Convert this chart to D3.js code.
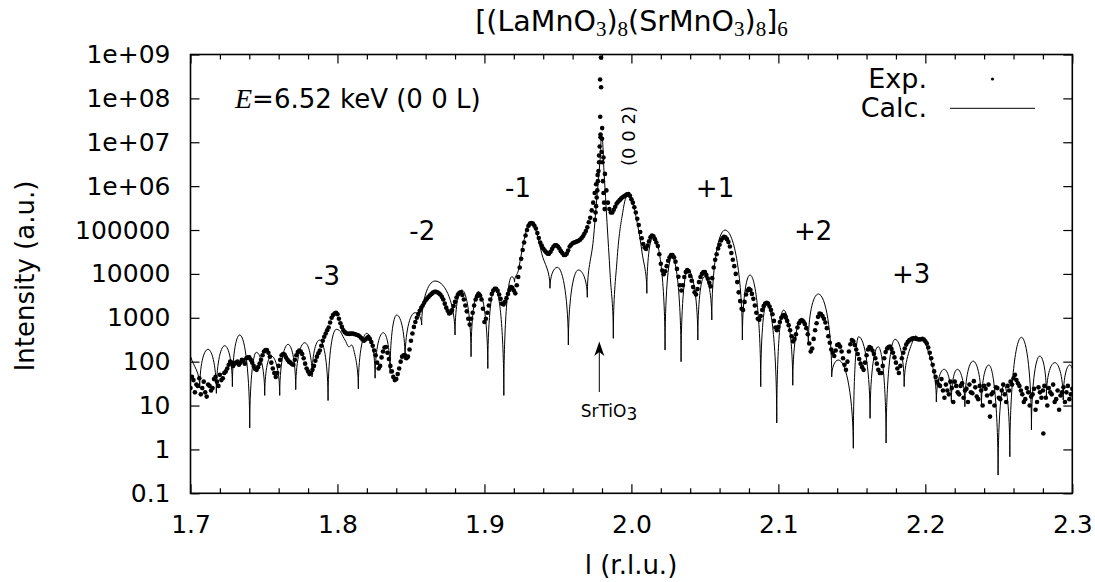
<!DOCTYPE html>
<html><head><meta charset="utf-8">
<script src="https://cdn.jsdelivr.net/npm/d3@7"></script>
<style>
body{margin:0;background:#fff}
svg{display:block}
text{font-family:"DejaVu Sans",sans-serif;fill:#000}
</style>
</head><body>
<svg id="chart" width="1095" height="582"></svg>
<script>
// ---------------- DATA ----------------
const xTickValues = [1.7, 1.8, 1.9, 2.0, 2.1, 2.2, 2.3];
const xTickLabels = ["1.7", "1.8", "1.9", "2.0", "2.1", "2.2", "2.3"];
const xMinorTicks = [1.72,1.74,1.76,1.78,1.82,1.84,1.86,1.88,1.92,1.94,1.96,1.98,2.02,2.04,2.06,2.08,2.12,2.14,2.16,2.18,2.22,2.24,2.26,2.28];
const yTickValues = [1e9, 1e8, 1e7, 1e6, 1e5, 1e4, 1e3, 100, 10, 1, 0.1];
const yTickLabels = ["1e+09","1e+08","1e+07","1e+06","100000","10000","1000","100","10","1","0.1"];

// Experimental intensities on a regular L grid (start 1.700, step 0.002)
const expStartL = 1.700, expStepL = 0.002;
const expI = [
  25, 38, 30, 42, 25, 20, 30, 22, 40, 35,
  50, 42, 60, 85, 95, 90, 100, 95, 105, 120,
  125, 95, 68, 75, 110, 170, 185, 130, 70, 45,
  80, 140, 145, 110, 95, 85, 140, 180, 150, 90,
  60, 55, 80, 130, 180, 300, 440, 600, 1000, 1250,
  1200, 750, 520, 440, 430, 440, 420, 400, 350, 300,
  340, 330, 230, 140, 70, 125, 210, 160, 80, 45,
  40, 70, 130, 140, 130, 300, 620, 1000, 1450, 1900,
  2500, 3000, 3500, 3900, 3800, 3400, 2600, 1700, 1250, 1500,
  2300, 3400, 3800, 2600, 1400, 700, 1300, 2600, 3500, 2600,
  800, 1300, 2600, 4200, 4600, 3400, 2100, 2300, 3500, 5000,
  4200, 5500, 14000, 35000, 75000, 125000, 145000, 125000, 85000, 52000,
  38000, 31000, 29000, 37000, 45000, 42000, 33000, 27000, 29000, 42000,
  50000, 53000, 57000, 65000, 82000, 115000, 190000, 420000, 1100000, 3500000,
  12000000, 1900000, 420000, 250000, 290000, 400000, 480000, 560000, 620000, 660000,
  500000, 330000, 180000, 90000, 48000, 37000, 55000, 75000, 62000, 43000,
  17000, 9800, 15000, 24000, 27000, 19000, 8600, 4200, 8500, 12300,
  9000, 5000, 3400, 6500, 10000, 11000, 7800, 5200, 14000, 28000,
  46000, 65000, 68000, 53000, 30000, 15000, 6500, 2400, 1500, 3400,
  4600, 3500, 1900, 950, 1100, 1850, 2200, 1800, 1200, 600,
  620, 1000, 1150, 850, 520, 290, 420, 750, 880, 720,
  420, 170, 330, 750, 1250, 1100, 780, 380, 190, 135,
  240, 220, 120, 65, 170, 310, 240, 150, 90, 65,
  140, 215, 180, 120, 65, 55, 120, 200, 220, 160,
  95, 55, 120, 200, 280, 320, 340, 330, 320, 330,
  290, 210, 120, 60, 35, 28, 22, 30, 18, 25,
  35, 20, 28, 15, 24, 30, 19, 26, 14, 22,
  28, 17, 12, 20, 26, 15, 22, 18, 28, 35,
  42, 38, 28, 18, 14, 20, 16, 24, 12, 20,
  22, 15, 25, 18, 12, 22, 17, 26, 20, 14,
  24
];

// Intermediate experimental points (start 1.739, step 0.002)
const expMidStartL = 1.739, expMidStepL = 0.002;
const expMidI = [
  125, 110, 80, 65, 90, 140, 185, 160, 95, 55,
  55, 110, 150, 125, 100, 88, 110, 165, 170, 120,
  70, 52, 65, 105, 155, 230, 370, 520, 780, 1150,
  1300,
  950, 620, 470, 435, 435, 430, 410, 380, 320, 320,
  370, 280, 180, 95, 80, 170, 215, 115, 60, 38,
  52, 100, 140, 120, 190, 440, 800, 1220, 1680, 2200,
  2750, 3250, 3750, 3900, 3600, 3000, 2100, 1450, 1300, 1850,
  2900, 3700, 3300, 1900, 950, 950, 1900, 3100, 3200, 1600,
  950, 1900, 3500, 4600, 4100, 2700, 2000, 2800, 4300, 4800,
  3600, 8500, 22000, 52000, 100000, 140000, 140000, 108000, 66000, 44000,
  34000, 29000, 32000, 42000, 45000, 38000, 30000, 27000, 34000, 46000,
  52000, 55000, 60000, 72000, 95000, 150000, 280000, 700000, 1800000, 15000000,
  4500000, 800000, 300000, 250000, 340000, 440000, 520000, 590000, 650000, 600000,
  420000, 250000, 130000, 65000, 40000, 44000, 68000, 72000, 52000, 28000,
  12000, 11500, 20000, 27000, 24000, 13000, 5500, 5500, 11000, 11500,
  7000, 3800, 4500, 8500, 11000, 9500, 6300, 8000, 21000, 38000,
  58000, 70000, 62000, 42000, 21000, 10000, 3800, 1600, 2300, 4200,
  4300, 2700, 1300, 900, 1500, 2100, 2100, 1500, 850, 520,
  800, 1120, 1020, 680, 380, 330, 600, 850, 820, 580,
  260, 200, 520, 1050, 1220, 950, 580, 270, 160, 180,
  250, 170, 85, 100, 250, 290, 190, 115, 75, 95,
  190, 205, 150, 90, 55, 80, 165, 215, 195, 125,
  70, 80, 160, 245, 305, 335, 340, 325, 325, 320,
  260, 160, 85, 45, 30
];

// Extra experimental points (Bragg peak top and scattered noisy points)
const expExtraL = [
  1.9793, 1.9787, 1.9794, 1.9788, 1.9801, 1.9790, 1.9784, 1.9797, 1.9780, 1.9803,
  1.9776, 1.9806, 1.9772, 1.9768, 1.9810, 1.9764, 1.9814, 1.9760, 1.9818, 1.9756, 1.9752,
  1.701, 1.703, 1.705, 1.707, 1.709, 1.711, 1.713, 1.715, 1.717, 1.719,
  1.721, 1.723, 1.725, 1.727, 1.729, 1.731, 1.733, 1.735, 1.737,
  2.211, 2.213, 2.215, 2.217, 2.219, 2.221, 2.223, 2.225, 2.227, 2.229,
  2.231, 2.233, 2.235, 2.237, 2.239, 2.241, 2.243, 2.2440, 2.245, 2.247,
  2.249, 2.251, 2.253, 2.255, 2.257, 2.259, 2.261, 2.263, 2.265, 2.267,
  2.269, 2.271, 2.273, 2.275, 2.277, 2.279, 2.2803, 2.281, 2.283, 2.285,
  2.287, 2.289, 2.291, 2.293, 2.295, 2.297, 2.299
];
const expExtraI = [
  8.5e8, 2.7e8, 1.8e8, 3.8e7, 2.1e7, 1.3e7, 8e6, 6e6, 5e6, 3.5e6,
  2.2e6, 1.3e6, 1.3e6, 8e5, 7e5, 5.5e5, 4.2e5, 3.5e5, 3e5, 2.5e5, 1.7e5,
  45, 20, 28, 18, 35, 16, 28, 25, 45, 28,
  38, 55, 70, 100, 80, 95, 85, 110, 90,
  40, 15, 22, 35, 12, 28, 18, 32, 22, 12,
  20, 36, 16, 28, 10, 24, 30, 5.6, 18, 10,
  25, 14, 30, 12, 22, 30, 50, 32, 22, 12,
  25, 10, 18, 8, 26, 15, 2.3, 28, 10, 20,
  30, 14, 8, 20, 12, 28, 18
];

// Calculated curve: turning points
const calcL = [
  1.7001, 1.7063, 1.7119, 1.7176, 1.7233, 1.7285, 1.7335, 1.7403, 1.7448, 1.7505,
  1.7550, 1.7607, 1.7664, 1.7716, 1.7777, 1.7827, 1.7879, 1.7936, 1.7992, 1.8051,
  1.8074, 1.8108, 1.8142, 1.8199, 1.8256, 1.8312, 1.8358, 1.8403, 1.8460, 1.8528,
  1.8573, 1.8664, 1.8800, 1.8846, 1.8909, 1.8959, 1.9023, 1.9072, 1.9132, 1.9186,
  1.9205, 1.9231, 1.9254, 1.9276, 1.9310, 1.9344, 1.9390, 1.9446, 1.9496, 1.9571,
  1.9639, 1.9700, 1.9741, 1.9766, 1.9787, 1.9798, 1.9814, 1.9834, 1.9855, 1.9877,
  1.9902, 1.9936, 1.9979, 2.0005, 2.0039, 2.0073, 2.0105, 2.0149, 2.0229, 2.0275,
  2.0338, 2.0384, 2.0452, 2.0496, 2.0547, 2.0637, 2.0755, 2.0807, 2.0880, 2.0921,
  2.0989, 2.1034, 2.1098, 2.1159, 2.1204, 2.1272, 2.1363, 2.1408, 2.1510, 2.1546,
  2.1624, 2.1679, 2.1733, 2.1794, 2.1856, 2.1919, 2.1971, 2.1998, 2.2075, 2.2128,
  2.2177, 2.2218, 2.2269, 2.2325, 2.2382, 2.2432, 2.2495, 2.2536, 2.2575, 2.2654,
  2.2722, 2.2779, 2.2824, 2.2881, 2.2938, 2.2983, 2.3000
];
const calcI = [
  130, 25, 191, 19, 231, 27, 405, 3.1, 163, 17,
  134, 17, 248, 23, 270, 45, 312, 13, 546, 312,
  220, 202, 24, 443, 42, 457, 54, 1156, 109, 1306,
  684, 6890, 405, 4300, 130, 3935, 70, 4700, 17, 8630,
  6500, 12000, 32000, 72000, 150000, 115000, 29000, 4700, 14100, 240,
  12300, 2930, 60000, 600000, 4000000, 13400000, 2000000, 150000, 10000, 340,
  20000, 200000, 600000, 450000, 150000, 30000, 3610, 70400, 184, 24700,
  100, 12300, 312, 8630, 891, 100000, 312, 9440, 27, 2140,
  4, 1500, 29, 973, 262, 3480, 45, 109, 1.06, 370,
  5.1, 219, 1.4, 324, 27, 324, 330, 300, 12, 67,
  12, 67, 9.4, 103, 9.4, 84, 0.26, 29, 0.68, 359,
  2.8, 134, 16, 95, 13.4, 84, 70
];

const satelliteText = ["-3", "-2", "-1", "+1", "+2", "+3"];
const satelliteAtL = [1.7929, 1.8577, 1.9229, 2.0569, 2.1237, 2.1903];
const satelliteAtI = [5590, 59300, 566000, 566000, 59300, 6200];

// ---------------- LAYOUT ----------------
const m = {left: 190.5, right: 1072.3, top: 54.5, bottom: 493.3};
const svg = d3.select("#chart");
const x = d3.scaleLinear().domain([1.7, 2.3]).range([m.left, m.right]);
const y = d3.scaleLog().domain([0.1, 1e9]).range([m.bottom, m.top]);

svg.append("defs").append("clipPath").attr("id", "clip")
  .append("rect").attr("x", m.left).attr("y", m.top)
  .attr("width", m.right - m.left).attr("height", m.bottom - m.top);

// custom arch curve: vertical tangents at minima, horizontal at maxima
function archCurve(context) {
  let pts;
  return {
    areaStart() {}, areaEnd() {},
    lineStart() { pts = []; },
    point(px, py) { pts.push([+px, +py]); },
    lineEnd() {
      const n = pts.length; if (!n) return;
      const type = pts.map((q, i) => {
        const a = pts[i - 1], b = pts[i + 1];
        if (!a || !b) return "e";
        if (q[1] >= a[1] && q[1] >= b[1]) return "min";
        if (q[1] <= a[1] && q[1] <= b[1]) return "max";
        return "mono";
      });
      const slope = i => {
        const a = pts[i - 1], b = pts[i + 1];
        return (b[1] - a[1]) / (b[0] - a[0]);
      };
      context.moveTo(pts[0][0], pts[0][1]);
      for (let i = 0; i < n - 1; i++) {
        const a = pts[i], b = pts[i + 1];
        const dx = b[0] - a[0], dy = b[1] - a[1];
        let c1, c2;
        if (type[i] === "min") c1 = [a[0], a[1] + 0.55 * dy];
        else if (type[i] === "max") c1 = [a[0] + 0.55 * dx, a[1]];
        else if (type[i] === "mono") { const s = slope(i); c1 = [a[0] + dx / 3, a[1] + s * dx / 3]; }
        else c1 = [a[0] + dx / 3, a[1] + dy / 3];
        const j = i + 1;
        if (type[j] === "min") c2 = [b[0], b[1] - 0.55 * dy];
        else if (type[j] === "max") c2 = [b[0] - 0.55 * dx, b[1]];
        else if (type[j] === "mono") { const s = slope(j); c2 = [b[0] - dx / 3, b[1] - s * dx / 3]; }
        else c2 = [b[0] - dx / 3, b[1] - dy / 3];
        context.bezierCurveTo(c1[0], c1[1], c2[0], c2[1], b[0], b[1]);
      }
    }
  };
}

const plot = svg.append("g").attr("clip-path", "url(#clip)");

// experimental points
const expPts = expI.map((v, i) => [expStartL + i * expStepL, v])
  .concat(expMidI.map((v, i) => [expMidStartL + i * expMidStepL, v]))
  .concat(expExtraL.map((l, i) => [l, expExtraI[i]]));
plot.append("g").selectAll("circle").data(expPts).join("circle")
  .attr("cx", d => x(d[0])).attr("cy", d => y(d[1])).attr("r", 2.3).attr("fill", "#000");

// calculated line
const calcPts = calcL.map((l, i) => [l, calcI[i]]);
plot.append("path").datum(calcPts)
  .attr("fill", "none").attr("stroke", "#000").attr("stroke-width", 1)
  .attr("d", d3.line().x(d => x(d[0])).y(d => y(d[1])).curve(archCurve));

// axes
const fs = 25;
const gB = svg.append("g").attr("transform", `translate(0,${m.bottom})`)
  .call(d3.axisBottom(x).tickValues(xTickValues).tickFormat((d, i) => xTickLabels[i])
    .tickSizeInner(-9).tickSizeOuter(0).tickPadding(22));
const gBm = svg.append("g").attr("transform", `translate(0,${m.bottom})`)
  .call(d3.axisBottom(x).tickValues(xMinorTicks).tickFormat("").tickSizeInner(-5).tickSizeOuter(0));
const gT = svg.append("g").attr("transform", `translate(0,${m.top})`)
  .call(d3.axisTop(x).tickValues(xTickValues).tickFormat("").tickSizeInner(-9).tickSizeOuter(0));
const gTm = svg.append("g").attr("transform", `translate(0,${m.top})`)
  .call(d3.axisTop(x).tickValues(xMinorTicks).tickFormat("").tickSizeInner(-5).tickSizeOuter(0));
const gL = svg.append("g").attr("transform", `translate(${m.left},0)`)
  .call(d3.axisLeft(y).tickValues(yTickValues).tickFormat((d, i) => yTickLabels[i])
    .tickSizeInner(-9).tickSizeOuter(0).tickPadding(20));
const gR = svg.append("g").attr("transform", `translate(${m.right},0)`)
  .call(d3.axisRight(y).tickValues(yTickValues).tickFormat("").tickSizeInner(-9).tickSizeOuter(0));
[gB, gBm, gT, gTm, gL, gR].forEach(g => {
  g.select(".domain").remove();
  g.selectAll("line").attr("stroke", "#000").attr("stroke-width", 1.2);
  g.selectAll("text").attr("font-family", "DejaVu Sans").attr("font-size", fs).attr("fill", "#000");
});

// frame
svg.append("rect").attr("x", m.left).attr("y", m.top)
  .attr("width", m.right - m.left).attr("height", m.bottom - m.top)
  .attr("fill", "none").attr("stroke", "#000").attr("stroke-width", 1.6);

// axis titles
svg.append("text").attr("x", 631).attr("y", 574).attr("text-anchor", "middle")
  .attr("font-size", 26).text("l (r.l.u.)");
svg.append("text").attr("transform", "translate(34,276) rotate(-90)").attr("text-anchor", "middle")
  .attr("font-size", 26).text("Intensity (a.u.)");

// title
const title = svg.append("text").attr("x", 631.5).attr("y", 31).attr("text-anchor", "middle").attr("font-size", 28.5);
const titleParts = [["[(LaMnO", 0], ["3", 1], [")", 0], ["8", 1], ["(SrMnO", 0], ["3", 1], [")", 0], ["8", 1], ["]", 0], ["6", 1]];
let cur = 0;
titleParts.forEach(([t, sub]) => {
  const sh = sub ? 5 : 0;
  const ts = title.append("tspan").attr("dy", sh - cur).text(t);
  if (sub) ts.attr("font-family", "Liberation Serif").attr("font-size", 21);
  cur = sh;
});

// energy label
const eLab = svg.append("text").attr("x", 235).attr("y", 108).attr("font-size", 26);
eLab.append("tspan").attr("font-family", "Liberation Serif").attr("font-style", "italic").attr("font-size", 28).text("E");
eLab.append("tspan").text("=6.52 keV (0 0 L)");

// satellite labels
svg.append("g").selectAll("text").data(satelliteText).join("text")
  .attr("x", (d, i) => x(satelliteAtL[i])).attr("y", (d, i) => y(satelliteAtI[i]))
  .attr("text-anchor", "middle").attr("font-size", 26).text(d => d);

// (0 0 2) label
svg.append("text").attr("transform", "translate(634.5,136) rotate(-90)").attr("text-anchor", "middle")
  .attr("font-size", 18).text("(0 0 2)");

// SrTiO3 arrow
const ax = 599.3;
svg.append("line").attr("x1", ax).attr("x2", ax).attr("y1", 392).attr("y2", 350)
  .attr("stroke", "#000").attr("stroke-width", 1);
svg.append("path").attr("d", `M${ax},341.5 L${ax - 5},356 L${ax},352 L${ax + 5},356 Z`).attr("fill", "#000");
const sr = svg.append("text").attr("x", 609).attr("y", 417).attr("text-anchor", "middle").attr("font-size", 17);
sr.append("tspan").text("SrTiO");
sr.append("tspan").attr("dy", 3).text("3");

// legend
svg.append("text").attr("x", 927).attr("y", 88).attr("text-anchor", "end").attr("font-size", 27).text("Exp.");
svg.append("circle").attr("cx", 992.5).attr("cy", 79).attr("r", 1.6).attr("fill", "#000");
svg.append("text").attr("x", 927).attr("y", 117).attr("text-anchor", "end").attr("font-size", 27).text("Calc.");
svg.append("line").attr("x1", 950).attr("x2", 1035).attr("y1", 108.3).attr("y2", 108.3)
  .attr("stroke", "#000").attr("stroke-width", 1);
</script>
</body></html>
